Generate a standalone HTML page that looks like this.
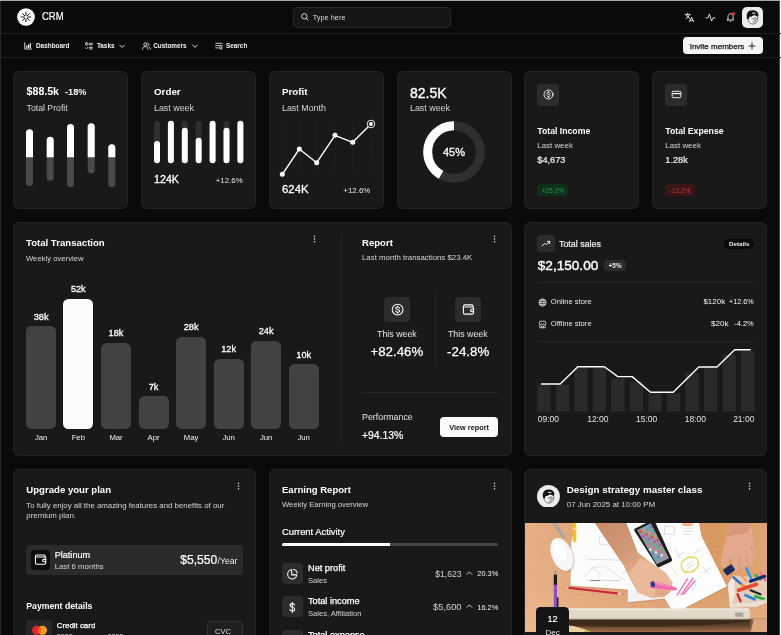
<!DOCTYPE html>
<html lang="en"><head><meta charset="utf-8"><title>CRM Dashboard</title>
<style>
html,body{margin:0;padding:0;}
body{width:781px;height:635px;overflow:hidden;position:relative;background:#0a0a0a;font-family:"Liberation Sans",sans-serif;color:#fff;}
.b{position:absolute;box-sizing:border-box;display:block;}
.t{position:absolute;line-height:12px;white-space:nowrap;}
#app{position:absolute;left:0;top:0;width:781px;height:635px;overflow:hidden;will-change:transform;}
.card{position:absolute;box-sizing:border-box;background:#191919;border:1px solid #232323;border-radius:6px;}
</style></head><body><div id="app">
<div class="b" style="left:0.00px;top:0.00px;width:781.00px;height:1.00px;background:#a9a9a9;"></div>
<div class="b" style="left:0.00px;top:1.00px;width:1.00px;height:634.00px;background:#262626;"></div>
<div class="b" style="left:779.00px;top:1.00px;width:1.00px;height:634.00px;background:#444;"></div>
<div class="b" style="left:780.00px;top:0.00px;width:1.00px;height:635.00px;background:#fbfbfb;"></div>
<header>
<div class="b" style="left:0.00px;top:32.60px;width:781.00px;height:1.00px;background:#1f1f1f;"></div>
<svg class="b" style="left:17.00px;top:7.70px;" width="18" height="18" viewBox="0 0 18 18"><circle cx="9" cy="9" r="8.8" fill="#fff"/><g stroke="#111" stroke-width="1" stroke-linecap="round"><path d="M9 4.2V7.4M9 10.6V13.8M4.2 9H7.4M10.6 9H13.8M5.6 5.6L7.7 7.7M10.3 10.3L12.4 12.4M12.4 5.6L10.3 7.7M7.7 10.3L5.6 12.4"/></g></svg>
<div class="t" style="top:11px;font-size:10.3px;color:#fff;left:41.50px;-webkit-text-stroke:0.2px #fff;transform:scaleX(0.92);transform-origin:0 0;">CRM</div>
<div class="b" style="left:293.30px;top:7.30px;width:157.70px;height:20.60px;background:#151515;border-radius:4px;border:1px solid #272727;"></div>
<svg class="b" style="left:300.00px;top:12.00px;" width="10" height="10" viewBox="0 0 10 10"><circle cx="4.3" cy="4.3" r="2.7" fill="none" stroke="#e6e6e6" stroke-width="0.9"/><path d="M6.3 6.3L8.2 8.2" stroke="#e6e6e6" stroke-width="0.9" stroke-linecap="round"/></svg>
<div class="t" style="top:12px;font-size:7.4px;color:#dcdcdc;left:312.70px;">Type here</div>
<svg class="b" style="left:684.00px;top:11.50px;" width="11" height="11" viewBox="0 0 11 11"><g fill="none" stroke="#f0f0f0" stroke-width="0.9" stroke-linecap="round" stroke-linejoin="round"><path d="M1.2 2.6H6.2M3.7 1.2V2.6M2 6.6C4 5.6 5.2 4.4 5.4 2.6M2.4 3.2C2.9 4.6 4.2 5.8 5.8 6.4M5.6 9.8L7.6 5.2L9.6 9.8M6.3 8.4H8.9"/></g></svg>
<svg class="b" style="left:704.50px;top:11.50px;" width="11" height="11" viewBox="0 0 11 11"><path d="M1 5.8H3L4.4 2L6.6 9L8 5.8H10" fill="none" stroke="#f0f0f0" stroke-width="0.9" stroke-linecap="round" stroke-linejoin="round"/></svg>
<svg class="b" style="left:724.50px;top:10.50px;" width="12" height="12" viewBox="0 0 12 12"><g fill="none" stroke="#f0f0f0" stroke-width="0.9" stroke-linecap="round" stroke-linejoin="round"><path d="M3 8.2V5.6C3 3.9 4.1 2.8 5.5 2.8S8 3.9 8 5.6V8.2L8.7 9H2.3Z"/><path d="M4.7 10.2C5 10.7 6 10.7 6.3 10.2"/></g><circle cx="8.4" cy="2.7" r="1.7" fill="#e0322d"/></svg>
<div class="b" style="left:742.00px;top:7.00px;width:20.80px;height:20.80px;background:#ebebeb;border-radius:5px;"></div>
<svg class="b" style="left:743.20px;top:8.40px;" width="18" height="18" viewBox="0 0 16 16"><path d="M4.1 7.6C3.9 11.4 6 14.2 8.8 14.2C11.6 14.2 13.3 11.8 13.1 8.2C13 6 11 4.6 8.6 4.6C6.2 4.6 4.2 5.8 4.1 7.6Z" fill="#f7f7f7" stroke="#222" stroke-width="0.55"/><path d="M3.5 9C2.5 5 4.6 1.9 8.4 1.9C11.8 1.9 14.1 3.8 13.7 6.6C13.5 7.7 12.7 7.9 12.1 7.3C10.9 6.1 9.3 6.3 8.3 7.1C7.5 7.8 6.7 8 5.9 7.8C5.5 8.6 5.3 9.4 5.1 10.1C4.4 10.1 3.8 9.7 3.5 9Z" fill="#131313"/><ellipse cx="9.6" cy="4.6" rx="1.7" ry="0.55" fill="#dcdcdc"/><circle cx="10.7" cy="9.7" r="1.2" fill="none" stroke="#222" stroke-width="0.5"/><path d="M7.3 9.5H9.5" stroke="#222" stroke-width="0.45"/><path d="M8.4 12.1C9.3 12.7 10.6 12.6 11.4 11.9" fill="none" stroke="#222" stroke-width="0.5"/></svg>
</header>
<nav>
<div class="b" style="left:0.00px;top:57.00px;width:781.00px;height:1.00px;background:#1f1f1f;"></div>
<svg class="b" style="left:24.00px;top:42.30px;" width="8" height="8" viewBox="0 0 8 8"><g fill="none" stroke="#f4f4f4" stroke-width="0.9" stroke-linecap="round"><path d="M0.8 0.8V7H7.4"/><path d="M2.9 5.4V3.9M4.6 5.4V2.9M6.3 5.4V1.6" stroke-width="1.2"/></g></svg>
<div class="t" style="top:40px;font-size:6.4px;color:#f4f4f4;font-weight:700;left:36.00px;">Dashboard</div>
<svg class="b" style="left:84.80px;top:42.20px;" width="8" height="8" viewBox="0 0 8 8"><g fill="none" stroke="#f4f4f4" stroke-width="0.8" stroke-linecap="round" stroke-linejoin="round"><rect x="0.7" y="0.9" width="2.2" height="2.2" rx="0.4"/><path d="M0.6 5.9L1.5 6.8L3 5.2"/><path d="M4.4 1.3H7.4M4.4 2.8H7.4M4.4 5.4H7.4M4.4 6.9H7.4"/></g></svg>
<div class="t" style="top:40px;font-size:6.4px;color:#f4f4f4;font-weight:700;left:96.90px;">Tasks</div>
<svg class="b" style="left:118.80px;top:44.00px;" width="6" height="5" viewBox="0 0 6 5"><path d="M0.7 1.1L3 3.4L5.3 1.1" fill="none" stroke="#f4f4f4" stroke-width="0.9" stroke-linecap="round" stroke-linejoin="round"/></svg>
<svg class="b" style="left:141.60px;top:42.00px;" width="9" height="8" viewBox="0 0 9 8"><g fill="none" stroke="#f4f4f4" stroke-width="0.8" stroke-linecap="round" stroke-linejoin="round"><circle cx="3.2" cy="2.3" r="1.5"/><path d="M0.6 7.3V6.6C0.6 5.4 1.6 4.7 3.2 4.7S5.8 5.4 5.8 6.6V7.3"/><path d="M5.9 0.9C6.9 1.1 7.2 2 7 2.7C6.8 3.3 6.4 3.6 5.9 3.7M7 4.9C7.9 5.2 8.3 5.8 8.3 6.6V7.3"/></g></svg>
<div class="t" style="top:40px;font-size:6.4px;color:#f4f4f4;font-weight:700;left:153.20px;">Customers</div>
<svg class="b" style="left:191.80px;top:44.00px;" width="6" height="5" viewBox="0 0 6 5"><path d="M0.7 1.1L3 3.4L5.3 1.1" fill="none" stroke="#f4f4f4" stroke-width="0.9" stroke-linecap="round" stroke-linejoin="round"/></svg>
<svg class="b" style="left:214.60px;top:42.30px;" width="8" height="8" viewBox="0 0 8 8"><g fill="none" stroke="#f4f4f4" stroke-width="0.8" stroke-linecap="round"><path d="M0.7 1.3H7.2M0.7 3.6H7.2M0.7 5.9H3.6"/><circle cx="5.6" cy="5.8" r="1.2"/><path d="M6.5 6.7L7.3 7.5"/></g></svg>
<div class="t" style="top:40px;font-size:6.4px;color:#f4f4f4;font-weight:700;left:226.00px;">Search</div>
<div class="b" style="left:683.00px;top:37.20px;width:79.70px;height:17.30px;background:#f5f5f5;border-radius:4px;"></div>
<div class="t" style="top:41px;font-size:8px;color:#141414;left:689.70px;-webkit-text-stroke:0.25px #141414;">Invite members</div>
<svg class="b" style="left:748.00px;top:42.20px;" width="8" height="8" viewBox="0 0 8 8"><path d="M4 1V7M1 4H7" stroke="#222" stroke-width="1" stroke-linecap="round"/></svg>
</nav>
<main>
<section class="card" style="left:13px;top:71px;width:115px;height:138px"></section>
<section class="card" style="left:140.9px;top:71px;width:115px;height:138px"></section>
<section class="card" style="left:268.7px;top:71px;width:115px;height:138px"></section>
<section class="card" style="left:396.6px;top:71px;width:115px;height:138px"></section>
<section class="card" style="left:524.4px;top:71px;width:115px;height:138px"></section>
<section class="card" style="left:652.3px;top:71px;width:115px;height:138px"></section>
<div class="t" style="top:85px;font-size:10.6px;color:#fff;font-weight:700;left:26.60px;">$88.5k</div>
<div class="t" style="top:86px;font-size:9.2px;color:#fff;font-weight:700;left:65.00px;">-18%</div>
<div class="t" style="top:102px;font-size:8.7px;color:#d6d6d6;left:26.60px;">Total Profit</div>
<svg class="b" style="left:13.00px;top:118.00px;" width="115" height="75" viewBox="0 0 115 75"><rect x="13.0" y="11.3" width="7" height="56.7" rx="3.5" fill="#4a4a4a"/><path d="M13.0 39.3V14.8a3.5 3.5 0 0 1 7 0V39.3Z" fill="#fff"/><rect x="33.7" y="18.7" width="7" height="44.0" rx="3.5" fill="#4a4a4a"/><path d="M33.7 39.3V22.2a3.5 3.5 0 0 1 7 0V39.3Z" fill="#fff"/><rect x="54.0" y="6.0" width="7" height="63.3" rx="3.5" fill="#4a4a4a"/><path d="M54.0 39.3V9.5a3.5 3.5 0 0 1 7 0V39.3Z" fill="#fff"/><rect x="74.7" y="5.3" width="7" height="50.0" rx="3.5" fill="#4a4a4a"/><path d="M74.7 39.3V8.8a3.5 3.5 0 0 1 7 0V39.3Z" fill="#fff"/><rect x="95.3" y="26.3" width="7" height="43.0" rx="3.5" fill="#4a4a4a"/><path d="M95.3 39.3V29.8a3.5 3.5 0 0 1 7 0V39.3Z" fill="#fff"/></svg>
<div class="t" style="top:86px;font-size:9.8px;color:#fff;font-weight:700;left:154.00px;">Order</div>
<div class="t" style="top:102px;font-size:8.9px;color:#d6d6d6;left:154.00px;">Last week</div>
<svg class="b" style="left:141.00px;top:115.00px;" width="115" height="55" viewBox="0 0 115 55"><rect x="13.0" y="5.7" width="6" height="42.6" rx="3" fill="#2f2f2f"/><rect x="13.0" y="26.0" width="6" height="22.3" rx="3" fill="#fff"/><rect x="26.9" y="5.7" width="6" height="42.6" rx="3" fill="#2f2f2f"/><rect x="26.9" y="5.7" width="6" height="42.6" rx="3" fill="#fff"/><rect x="40.8" y="5.7" width="6" height="42.6" rx="3" fill="#2f2f2f"/><rect x="40.8" y="12.7" width="6" height="35.6" rx="3" fill="#fff"/><rect x="54.7" y="5.7" width="6" height="42.6" rx="3" fill="#2f2f2f"/><rect x="54.7" y="22.7" width="6" height="25.6" rx="3" fill="#fff"/><rect x="68.6" y="5.7" width="6" height="42.6" rx="3" fill="#2f2f2f"/><rect x="68.6" y="5.7" width="6" height="42.6" rx="3" fill="#fff"/><rect x="82.5" y="5.7" width="6" height="42.6" rx="3" fill="#2f2f2f"/><rect x="82.5" y="12.7" width="6" height="35.6" rx="3" fill="#fff"/><rect x="96.4" y="5.7" width="6" height="42.6" rx="3" fill="#2f2f2f"/><rect x="96.4" y="5.7" width="6" height="42.6" rx="3" fill="#fff"/></svg>
<div class="t" style="top:173px;font-size:10.7px;color:#fff;left:154.00px;-webkit-text-stroke:0.3px #fff;">124K</div>
<div class="t" style="top:175px;font-size:7.9px;color:#e8e8e8;right:538.30px;">+12.6%</div>
<div class="t" style="top:86px;font-size:9.8px;color:#fff;font-weight:700;left:282.00px;">Profit</div>
<div class="t" style="top:102px;font-size:8.9px;color:#d6d6d6;left:282.00px;">Last Month</div>
<svg class="b" style="left:269.00px;top:115.00px;" width="115" height="65" viewBox="0 0 115 65"><path d="M13.3 7.5V58.5" stroke="#333" stroke-width="0.6" stroke-dasharray="2.2 2.2"/><path d="M30.3 7.5V58.5" stroke="#333" stroke-width="0.6" stroke-dasharray="2.2 2.2"/><path d="M47.7 7.5V58.5" stroke="#333" stroke-width="0.6" stroke-dasharray="2.2 2.2"/><path d="M66.0 7.5V58.5" stroke="#333" stroke-width="0.6" stroke-dasharray="2.2 2.2"/><path d="M83.7 7.5V58.5" stroke="#333" stroke-width="0.6" stroke-dasharray="2.2 2.2"/><path d="M102.0 7.5V58.5" stroke="#333" stroke-width="0.6" stroke-dasharray="2.2 2.2"/><polyline fill="none" stroke="#fff" stroke-width="1.4" stroke-linejoin="round" points="13.3,59.3 30.3,34.0 47.7,47.7 66.0,20.3 83.7,27.3 102.0,9.0"/><circle cx="13.3" cy="59.3" r="2.5" fill="#fff"/><circle cx="30.3" cy="34.0" r="2.5" fill="#fff"/><circle cx="47.7" cy="47.7" r="2.5" fill="#fff"/><circle cx="66.0" cy="20.3" r="2.5" fill="#fff"/><circle cx="83.7" cy="27.3" r="2.5" fill="#fff"/><circle cx="102.0" cy="9.0" r="3.8" fill="#191919" stroke="#fff" stroke-width="0.9"/><circle cx="102.0" cy="9.0" r="1.9" fill="#fff"/></svg>
<div class="t" style="top:183px;font-size:11.4px;color:#fff;left:282.00px;-webkit-text-stroke:0.3px #fff;">624K</div>
<div class="t" style="top:185px;font-size:7.9px;color:#e8e8e8;right:410.70px;">+12.6%</div>
<div class="t" style="top:87px;font-size:14px;color:#fff;left:410.00px;-webkit-text-stroke:0.35px #fff;">82.5K</div>
<div class="t" style="top:102px;font-size:8.9px;color:#d6d6d6;left:410.00px;">Last week</div>
<svg class="b" style="left:419.00px;top:116.70px;" width="70" height="70" viewBox="0 0 70 70"><circle cx="35" cy="35" r="26.3" fill="none" stroke="#2f2f2f" stroke-width="9"/><circle cx="35" cy="35" r="26.3" fill="none" stroke="#fff" stroke-width="9" stroke-dasharray="68.58 165.25" transform="rotate(-90 35 35) scale(1 -1) translate(0 -70)"/></svg>
<div class="t" style="top:146px;font-size:11px;color:#fff;left:454.00px;transform:translateX(-50%);-webkit-text-stroke:0.3px #fff;">45%</div>
<div class="b" style="left:537.30px;top:84.00px;width:21.70px;height:21.70px;background:#2c2c2c;border-radius:3.5px;"></div>
<svg class="b" style="left:542.65px;top:89.35px;" width="11" height="11" viewBox="0 0 11 11"><g fill="none" stroke="#fff" stroke-width="0.9" stroke-linecap="round"><circle cx="5.5" cy="5.5" r="4.5"/><path d="M7.2 4.4C7.1 3.7 6.4 3.3 5.5 3.3C4.5 3.3 3.8 3.8 3.8 4.4C3.8 5.1 4.6 5.3 5.5 5.5C6.4 5.7 7.2 5.9 7.2 6.6C7.2 7.2 6.5 7.7 5.5 7.7C4.6 7.7 3.9 7.3 3.8 6.6" stroke-width="0.85"/><path d="M5.5 2.5V3.3M5.5 7.7V8.5" stroke-width="0.8"/></g></svg>
<div class="t" style="top:125px;font-size:8.7px;color:#fff;font-weight:700;left:537.30px;">Total Income</div>
<div class="t" style="top:140px;font-size:7.9px;color:#d6d6d6;left:537.30px;">Last week</div>
<div class="t" style="top:154px;font-size:9.2px;color:#f2f2f2;left:537.30px;-webkit-text-stroke:0.2px #f2f2f2;">$4,673</div>
<div class="b" style="left:537.30px;top:184.30px;width:31.00px;height:11.70px;background:#11301b;border-radius:3.5px;"></div>
<div class="t" style="top:185px;font-size:6.6px;color:#1f9a45;left:552.80px;transform:translateX(-50%);">+25.2%</div>
<div class="b" style="left:665.30px;top:84.00px;width:21.70px;height:21.70px;background:#2c2c2c;border-radius:3.5px;"></div>
<svg class="b" style="left:670.65px;top:89.35px;" width="11" height="11" viewBox="0 0 11 11"><g fill="none" stroke="#fff" stroke-width="0.9" stroke-linejoin="round"><rect x="1.2" y="2.3" width="8.6" height="6.4" rx="1"/><path d="M1.2 4.6H9.8" stroke-width="1.2"/></g></svg>
<div class="t" style="top:125px;font-size:8.7px;color:#fff;font-weight:700;left:665.30px;">Total Expense</div>
<div class="t" style="top:140px;font-size:7.9px;color:#d6d6d6;left:665.30px;">Last week</div>
<div class="t" style="top:154px;font-size:9.2px;color:#f2f2f2;left:665.30px;-webkit-text-stroke:0.2px #f2f2f2;">1.28k</div>
<div class="b" style="left:665.30px;top:184.30px;width:29.50px;height:11.70px;background:#3a1618;border-radius:3.5px;"></div>
<div class="t" style="top:185px;font-size:6.6px;color:#c93636;left:680.05px;transform:translateX(-50%);">-12.2%</div>
<section class="card" style="left:13px;top:222px;width:499px;height:234px"></section>
<div class="t" style="top:237px;font-size:9.6px;color:#fff;font-weight:700;left:26.00px;">Total Transaction</div>
<div class="t" style="top:253px;font-size:7.7px;color:#d6d6d6;left:26.00px;">Weekly overview</div>
<svg class="b" style="left:312.50px;top:235.20px;" width="3" height="8" viewBox="0 0 3 8"><circle cx="1.5" cy="1.2" r="0.75" fill="#f0f0f0"/><circle cx="1.5" cy="4" r="0.75" fill="#f0f0f0"/><circle cx="1.5" cy="6.8" r="0.75" fill="#f0f0f0"/></svg>
<div class="b" style="left:26.10px;top:326.30px;width:30.00px;height:102.40px;background:#424242;border-radius:5.5px;"></div>
<div class="t" style="top:311px;font-size:9.2px;color:#fff;left:41.10px;transform:translateX(-50%);-webkit-text-stroke:0.3px #fff;">38k</div>
<div class="t" style="top:432px;font-size:7.7px;color:#f0f0f0;left:41.10px;transform:translateX(-50%);">Jan</div>
<div class="b" style="left:63.30px;top:299.10px;width:30.00px;height:129.60px;background:#fcfcfc;border-radius:5.5px;"></div>
<div class="t" style="top:283px;font-size:9.2px;color:#fff;left:78.30px;transform:translateX(-50%);-webkit-text-stroke:0.3px #fff;">52k</div>
<div class="t" style="top:432px;font-size:7.7px;color:#f0f0f0;left:78.30px;transform:translateX(-50%);">Feb</div>
<div class="b" style="left:101.00px;top:342.60px;width:30.00px;height:86.10px;background:#424242;border-radius:5.5px;"></div>
<div class="t" style="top:327px;font-size:9.2px;color:#fff;left:116.00px;transform:translateX(-50%);-webkit-text-stroke:0.3px #fff;">18k</div>
<div class="t" style="top:432px;font-size:7.7px;color:#f0f0f0;left:116.00px;transform:translateX(-50%);">Mar</div>
<div class="b" style="left:138.60px;top:396.40px;width:30.00px;height:32.30px;background:#424242;border-radius:5.5px;"></div>
<div class="t" style="top:381px;font-size:9.2px;color:#fff;left:153.60px;transform:translateX(-50%);-webkit-text-stroke:0.3px #fff;">7k</div>
<div class="t" style="top:432px;font-size:7.7px;color:#f0f0f0;left:153.60px;transform:translateX(-50%);">Apr</div>
<div class="b" style="left:176.10px;top:337.00px;width:30.00px;height:91.70px;background:#424242;border-radius:5.5px;"></div>
<div class="t" style="top:321px;font-size:9.2px;color:#fff;left:191.10px;transform:translateX(-50%);-webkit-text-stroke:0.3px #fff;">28k</div>
<div class="t" style="top:432px;font-size:7.7px;color:#f0f0f0;left:191.10px;transform:translateX(-50%);">May</div>
<div class="b" style="left:213.60px;top:358.50px;width:30.00px;height:70.20px;background:#424242;border-radius:5.5px;"></div>
<div class="t" style="top:343px;font-size:9.2px;color:#fff;left:228.60px;transform:translateX(-50%);-webkit-text-stroke:0.3px #fff;">12k</div>
<div class="t" style="top:432px;font-size:7.7px;color:#f0f0f0;left:228.60px;transform:translateX(-50%);">Jun</div>
<div class="b" style="left:251.10px;top:341.10px;width:30.00px;height:87.60px;background:#424242;border-radius:5.5px;"></div>
<div class="t" style="top:325px;font-size:9.2px;color:#fff;left:266.10px;transform:translateX(-50%);-webkit-text-stroke:0.3px #fff;">24k</div>
<div class="t" style="top:432px;font-size:7.7px;color:#f0f0f0;left:266.10px;transform:translateX(-50%);">Jun</div>
<div class="b" style="left:288.70px;top:364.20px;width:30.00px;height:64.50px;background:#424242;border-radius:5.5px;"></div>
<div class="t" style="top:349px;font-size:9.2px;color:#fff;left:303.70px;transform:translateX(-50%);-webkit-text-stroke:0.3px #fff;">10k</div>
<div class="t" style="top:432px;font-size:7.7px;color:#f0f0f0;left:303.70px;transform:translateX(-50%);">Jun</div>
<div class="b" style="left:341.00px;top:235.00px;width:1.00px;height:207.00px;background:#262626;"></div>
<div class="t" style="top:237px;font-size:9.6px;color:#fff;font-weight:700;left:362.00px;">Report</div>
<div class="t" style="top:252px;font-size:7.85px;color:#d6d6d6;left:362.00px;">Last month transactions $23.4K</div>
<svg class="b" style="left:492.50px;top:235.20px;" width="3" height="8" viewBox="0 0 3 8"><circle cx="1.5" cy="1.2" r="0.75" fill="#f0f0f0"/><circle cx="1.5" cy="4" r="0.75" fill="#f0f0f0"/><circle cx="1.5" cy="6.8" r="0.75" fill="#f0f0f0"/></svg>
<div class="b" style="left:384.30px;top:296.80px;width:26.00px;height:25.50px;background:#2c2c2c;border-radius:3.5px;"></div>
<svg class="b" style="left:390.70px;top:302.95px;" width="13.2" height="13.2" viewBox="0 0 11 11"><g fill="none" stroke="#fff" stroke-width="0.9" stroke-linecap="round"><circle cx="5.5" cy="5.5" r="4.5"/><path d="M7.2 4.4C7.1 3.7 6.4 3.3 5.5 3.3C4.5 3.3 3.8 3.8 3.8 4.4C3.8 5.1 4.6 5.3 5.5 5.5C6.4 5.7 7.2 5.9 7.2 6.6C7.2 7.2 6.5 7.7 5.5 7.7C4.6 7.7 3.9 7.3 3.8 6.6" stroke-width="0.85"/><path d="M5.5 2.5V3.3M5.5 7.7V8.5" stroke-width="0.8"/></g></svg>
<div class="b" style="left:455.20px;top:296.80px;width:25.60px;height:25.50px;background:#2c2c2c;border-radius:3.5px;"></div>
<svg class="b" style="left:461.50px;top:303.10px;" width="13" height="13" viewBox="0 0 11 11"><g fill="none" stroke="#fff" stroke-width="0.9" stroke-linejoin="round" stroke-linecap="round"><path d="M9.3 3.4V2.6C9.3 2 8.9 1.6 8.3 1.6H2.4C1.7 1.6 1.2 2.1 1.2 2.8V8.2C1.2 8.9 1.7 9.4 2.4 9.4H8.6C9.3 9.4 9.8 8.9 9.8 8.2V4.4C9.8 3.8 9.4 3.4 8.8 3.4H2.2"/><path d="M9.8 5.3H8.2C7.6 5.3 7.2 5.7 7.2 6.3S7.6 7.3 8.2 7.3H9.8"/></g></svg>
<div class="b" style="left:435.00px;top:290.00px;width:1.00px;height:76.50px;background:#262626;"></div>
<div class="t" style="top:328px;font-size:8.8px;color:#e6e6e6;left:396.90px;transform:translateX(-50%);">This week</div>
<div class="t" style="top:328px;font-size:8.8px;color:#e6e6e6;left:467.80px;transform:translateX(-50%);">This week</div>
<div class="t" style="top:346px;font-size:13.3px;color:#fff;left:396.90px;transform:translateX(-50%);-webkit-text-stroke:0.25px #fff;">+82.46%</div>
<div class="t" style="top:346px;font-size:13.3px;color:#fff;left:468.20px;transform:translateX(-50%);-webkit-text-stroke:0.25px #fff;">-24.8%</div>
<div class="b" style="left:362.00px;top:392.00px;width:136.50px;height:1.00px;background:#262626;"></div>
<div class="t" style="top:411px;font-size:8.9px;color:#e6e6e6;left:362.00px;">Performance</div>
<div class="t" style="top:430px;font-size:10.4px;color:#fff;left:362.00px;-webkit-text-stroke:0.2px #fff;">+94.13%</div>
<div class="b" style="left:439.80px;top:417.00px;width:58.60px;height:20.00px;background:#fafafa;border-radius:4px;"></div>
<div class="t" style="top:422px;font-size:7.3px;color:#141414;font-weight:700;left:469.10px;transform:translateX(-50%);">View report</div>
<section class="card" style="left:524px;top:222px;width:243px;height:234px"></section>
<div class="b" style="left:537.30px;top:235.00px;width:17.60px;height:17.30px;background:#2c2c2c;border-radius:3.5px;"></div>
<svg class="b" style="left:541.40px;top:238.90px;" width="9.6" height="9.6" viewBox="0 0 9 9"><path d="M1 6.6L3.6 4L5.1 5.5L8 2.4M5.9 2.2H8.1V4.4" fill="none" stroke="#fff" stroke-width="0.85" stroke-linecap="round" stroke-linejoin="round"/></svg>
<div class="t" style="top:238px;font-size:8.9px;color:#f0f0f0;left:559.00px;-webkit-text-stroke:0.2px #f0f0f0;">Total sales</div>
<div class="b" style="left:723.80px;top:239.30px;width:30.70px;height:9.40px;background:#0b0b0b;border-radius:4.7px;"></div>
<div class="t" style="top:238px;font-size:6.2px;color:#f0f0f0;font-weight:700;left:739.20px;transform:translateX(-50%);">Details</div>
<div class="t" style="top:260px;font-size:13.6px;color:#fff;left:537.80px;-webkit-text-stroke:0.4px #fff;">$2,150.00</div>
<div class="b" style="left:604.20px;top:259.70px;width:21.70px;height:11.30px;background:#2c2c2c;border-radius:3.5px;"></div>
<div class="t" style="top:260px;font-size:6.4px;color:#ededed;font-weight:700;left:615.10px;transform:translateX(-50%);">+5%</div>
<div class="b" style="left:537.80px;top:282.00px;width:216.70px;height:1.00px;background:#262626;"></div>
<svg class="b" style="left:537.50px;top:298.00px;" width="9" height="9" viewBox="0 0 9 9"><g fill="none" stroke="#eee" stroke-width="0.7"><circle cx="4.5" cy="4.5" r="3.6"/><ellipse cx="4.5" cy="4.5" rx="1.6" ry="3.6"/><path d="M0.9 4.5H8.1M1.5 2.6H7.5M1.5 6.4H7.5"/></g></svg>
<div class="t" style="top:296px;font-size:7.6px;color:#e6e6e6;left:550.80px;">Online store</div>
<div class="t" style="top:296px;font-size:7.2px;color:#f4f4f4;right:27.40px;">+12.6%</div>
<div class="t" style="top:296px;font-size:8px;color:#f4f4f4;right:55.80px;">$120k</div>
<svg class="b" style="left:537.50px;top:319.70px;" width="9" height="9" viewBox="0 0 9 9"><g fill="none" stroke="#eee" stroke-width="0.75" stroke-linejoin="round"><path d="M1.2 3.4L1.8 1.2H7.2L7.8 3.4C7.8 4.2 7.2 4.6 6.7 4.6S5.6 4.2 5.6 3.6C5.6 4.2 5 4.6 4.5 4.6S3.4 4.2 3.4 3.6C3.4 4.2 2.8 4.6 2.3 4.6S1.2 4.2 1.2 3.4Z"/><path d="M1.8 4.6V7.8H7.2V4.6M3.6 7.8V6H5.4V7.8"/></g></svg>
<div class="t" style="top:318px;font-size:7.6px;color:#e6e6e6;left:550.80px;">Offline store</div>
<div class="t" style="top:318px;font-size:7.4px;color:#f4f4f4;right:27.40px;">-4.2%</div>
<div class="t" style="top:318px;font-size:8px;color:#f4f4f4;right:52.60px;">$20k</div>
<div class="b" style="left:537.80px;top:340.50px;width:216.70px;height:1.00px;background:#262626;"></div>
<svg class="b" style="left:524.00px;top:345.00px;" width="243" height="70" viewBox="0 0 243 70"><rect x="13.2" y="39.6" width="13.4" height="27.2" fill="#2a2a2a"/><rect x="31.7" y="39.6" width="13.4" height="27.2" fill="#2a2a2a"/><rect x="50.3" y="23.0" width="13.4" height="43.8" fill="#2a2a2a"/><rect x="68.8" y="23.0" width="13.4" height="43.8" fill="#2a2a2a"/><rect x="87.3" y="33.2" width="13.4" height="33.6" fill="#2a2a2a"/><rect x="105.9" y="36.4" width="13.4" height="30.4" fill="#2a2a2a"/><rect x="124.4" y="48.3" width="13.4" height="18.5" fill="#2a2a2a"/><rect x="142.9" y="48.3" width="13.4" height="18.5" fill="#2a2a2a"/><rect x="161.4" y="27.8" width="13.4" height="39.0" fill="#2a2a2a"/><rect x="180.0" y="23.0" width="13.4" height="43.8" fill="#2a2a2a"/><rect x="198.5" y="9.8" width="13.4" height="57.0" fill="#2a2a2a"/><rect x="217.0" y="6.0" width="13.4" height="60.8" fill="#2a2a2a"/><polyline fill="none" stroke="#fff" stroke-width="1.4" stroke-linejoin="round" points="17.0,39.0 36.2,39.0 53.8,21.7 80.4,21.7 93.8,31.6 108.2,31.6 126.5,47.3 149.2,47.3 174.8,22.0 193.0,22.0 210.7,4.7 226.7,4.7"/></svg>
<div class="t" style="top:413px;font-size:8.5px;color:#e2e2e2;left:537.80px;">09:00</div>
<div class="t" style="top:413px;font-size:8.5px;color:#e2e2e2;left:597.80px;transform:translateX(-50%);">12:00</div>
<div class="t" style="top:413px;font-size:8.5px;color:#e2e2e2;left:646.60px;transform:translateX(-50%);">15:00</div>
<div class="t" style="top:413px;font-size:8.5px;color:#e2e2e2;left:695.30px;transform:translateX(-50%);">18:00</div>
<div class="t" style="top:413px;font-size:8.5px;color:#e2e2e2;right:26.60px;">21:00</div>
<section class="card" style="left:13px;top:469px;width:243px;height:200px"></section>
<div class="t" style="top:484px;font-size:9.6px;color:#fff;font-weight:700;left:26.30px;">Upgrade your plan</div>
<svg class="b" style="left:237.20px;top:482.30px;" width="3" height="8" viewBox="0 0 3 8"><circle cx="1.5" cy="1.2" r="0.75" fill="#f0f0f0"/><circle cx="1.5" cy="4" r="0.75" fill="#f0f0f0"/><circle cx="1.5" cy="6.8" r="0.75" fill="#f0f0f0"/></svg>
<div class="t" style="top:500px;font-size:7.85px;color:#d4d4d4;left:26.30px;">To fully enjoy all the amazing features and benefits of our</div>
<div class="t" style="top:510px;font-size:7.85px;color:#d4d4d4;left:26.30px;">premium plan.</div>
<div class="b" style="left:26.30px;top:545.00px;width:217.00px;height:30.00px;background:#2b2b2b;border-radius:4px;"></div>
<div class="b" style="left:30.70px;top:550.00px;width:19.00px;height:20.00px;background:#0c0c0c;border-radius:3.5px;"></div>
<svg class="b" style="left:33.70px;top:553.40px;" width="13.2" height="13.2" viewBox="0 0 11 11"><g fill="none" stroke="#fff" stroke-width="0.9" stroke-linejoin="round" stroke-linecap="round"><path d="M9.3 3.4V2.6C9.3 2 8.9 1.6 8.3 1.6H2.4C1.7 1.6 1.2 2.1 1.2 2.8V8.2C1.2 8.9 1.7 9.4 2.4 9.4H8.6C9.3 9.4 9.8 8.9 9.8 8.2V4.4C9.8 3.8 9.4 3.4 8.8 3.4H2.2"/><path d="M9.8 5.3H8.2C7.6 5.3 7.2 5.7 7.2 6.3S7.6 7.3 8.2 7.3H9.8"/></g></svg>
<div class="t" style="top:549px;font-size:9.1px;color:#fff;left:54.70px;-webkit-text-stroke:0.2px #fff;">Platinum</div>
<div class="t" style="top:561px;font-size:7.8px;color:#d6d6d6;left:54.70px;">Last 6 months</div>
<div class="t" style="top:554px;font-size:12.1px;color:#fff;right:563.80px;-webkit-text-stroke:0.2px #fff;">$5,550</div>
<div class="t" style="top:555px;font-size:8.6px;color:#f0f0f0;left:217.60px;">/Year</div>
<div class="t" style="top:600px;font-size:8.7px;color:#fff;font-weight:700;left:26.30px;">Payment details</div>
<div class="b" style="left:26.00px;top:620.20px;width:25.60px;height:22.00px;background:#272727;border-radius:3.5px;"></div>
<svg class="b" style="left:30.00px;top:624.00px;" width="20" height="13" viewBox="0 0 20 13"><circle cx="6.7" cy="6.3" r="4.6" fill="#e3262d"/><circle cx="12.4" cy="6.3" r="4.6" fill="#f59a23"/><path d="M9.55 2.7A4.6 4.6 0 0 1 9.55 9.9A4.6 4.6 0 0 1 9.55 2.7Z" fill="#f0601f"/></svg>
<div class="t" style="top:620px;font-size:7.9px;color:#fff;left:56.70px;-webkit-text-stroke:0.25px #fff;">Credit card</div>
<div class="t" style="top:631px;font-size:7.2px;color:#cfcfcf;left:56.70px;">2532 xxxx xxxx 2255</div>
<div class="b" style="left:207.20px;top:621.20px;width:36.30px;height:22.00px;background:#1f1f1f;border-radius:4px;border:1px solid #343434;"></div>
<div class="t" style="top:626px;font-size:7.5px;color:#dedede;left:215.00px;">CVC</div>
<section class="card" style="left:269px;top:469px;width:243px;height:200px"></section>
<div class="t" style="top:484px;font-size:9.55px;color:#fff;font-weight:700;left:282.00px;">Earning Report</div>
<svg class="b" style="left:492.80px;top:482.30px;" width="3" height="8" viewBox="0 0 3 8"><circle cx="1.5" cy="1.2" r="0.75" fill="#f0f0f0"/><circle cx="1.5" cy="4" r="0.75" fill="#f0f0f0"/><circle cx="1.5" cy="6.8" r="0.75" fill="#f0f0f0"/></svg>
<div class="t" style="top:499px;font-size:7.7px;color:#d6d6d6;left:282.00px;">Weekly Earning overview</div>
<div class="t" style="top:526px;font-size:9.35px;color:#fff;left:282.00px;-webkit-text-stroke:0.2px #fff;">Current Activity</div>
<div class="b" style="left:282.00px;top:543.00px;width:216.30px;height:3.40px;background:#454545;border-radius:1.7px;"></div>
<div class="b" style="left:282.00px;top:543.00px;width:108.00px;height:3.40px;background:#fff;border-radius:1.7px;border-top-right-radius:0;border-bottom-right-radius:0;"></div>
<div class="b" style="left:282.00px;top:563.30px;width:21.30px;height:21.00px;background:#2c2c2c;border-radius:3.5px;"></div>
<svg class="b" style="left:286.35px;top:567.50px;" width="12.6" height="12.6" viewBox="0 0 11 11"><g fill="none" stroke="#fff" stroke-width="0.9" stroke-linejoin="round" stroke-linecap="round"><path d="M5 1.6A4 4 0 1 0 9.4 6H5Z"/><path d="M6.4 1.3A3.6 3.6 0 0 1 9.7 4.6"/></g></svg>
<div class="t" style="top:562px;font-size:9.2px;color:#fff;left:308.00px;-webkit-text-stroke:0.25px #fff;">Net profit</div>
<div class="t" style="top:575px;font-size:7.6px;color:#d6d6d6;left:308.00px;">Sales</div>
<div class="t" style="top:568px;font-size:8.6px;color:#d4d4d4;right:319.50px;">$1,623</div>
<svg class="b" style="left:466.30px;top:570.30px;" width="7" height="6" viewBox="0 0 7 6"><path d="M1 4.3L3.4 1.9L5.8 4.3" fill="none" stroke="#f0f0f0" stroke-width="0.85" stroke-linecap="round" stroke-linejoin="round"/></svg>
<div class="t" style="top:568px;font-size:7.4px;color:#f4f4f4;right:282.70px;">20.3%</div>
<div class="b" style="left:282.00px;top:596.40px;width:21.30px;height:21.00px;background:#2c2c2c;border-radius:3.5px;"></div>
<svg class="b" style="left:286.35px;top:600.60px;" width="12.6" height="12.6" viewBox="0 0 11 11"><path d="M7.6 3.5C7.4 2.7 6.6 2.3 5.5 2.3C4.3 2.3 3.5 2.9 3.5 3.8C3.5 4.8 4.4 5.1 5.5 5.4C6.7 5.7 7.6 6 7.6 7.1C7.6 8 6.7 8.7 5.5 8.7C4.4 8.7 3.5 8.2 3.3 7.4M5.5 1V10" fill="none" stroke="#fff" stroke-width="0.9" stroke-linecap="round"/></svg>
<div class="t" style="top:595px;font-size:9.2px;color:#fff;left:308.00px;-webkit-text-stroke:0.25px #fff;">Total income</div>
<div class="t" style="top:608px;font-size:7.6px;color:#d6d6d6;left:308.00px;">Sales, Affiliation</div>
<div class="t" style="top:601px;font-size:9.3px;color:#d4d4d4;right:319.50px;">$5,600</div>
<svg class="b" style="left:466.30px;top:603.40px;" width="7" height="6" viewBox="0 0 7 6"><path d="M1 4.3L3.4 1.9L5.8 4.3" fill="none" stroke="#f0f0f0" stroke-width="0.85" stroke-linecap="round" stroke-linejoin="round"/></svg>
<div class="t" style="top:602px;font-size:7.4px;color:#f4f4f4;right:282.70px;">16.2%</div>
<div class="b" style="left:282.00px;top:630.20px;width:21.30px;height:21.00px;background:#2c2c2c;border-radius:3.5px;"></div>
<svg class="b" style="left:286.35px;top:634.40px;" width="12.6" height="12.6" viewBox="0 0 11 11"><g fill="none" stroke="#fff" stroke-width="0.9" stroke-linejoin="round"><rect x="1.2" y="2.3" width="8.6" height="6.4" rx="1"/><path d="M1.2 4.6H9.8" stroke-width="1.2"/></g></svg>
<div class="t" style="top:629px;font-size:9.2px;color:#fff;left:308.00px;-webkit-text-stroke:0.25px #fff;">Total expense</div>
<div class="t" style="top:642px;font-size:7.6px;color:#d6d6d6;left:308.00px;">Adsense</div>
<div class="t" style="top:635px;font-size:8.6px;color:#d4d4d4;right:319.50px;">$3,600</div>
<svg class="b" style="left:466.30px;top:637.20px;" width="7" height="6" viewBox="0 0 7 6"><path d="M1 4.3L3.4 1.9L5.8 4.3" fill="none" stroke="#f0f0f0" stroke-width="0.85" stroke-linecap="round" stroke-linejoin="round"/></svg>
<div class="t" style="top:635px;font-size:7.4px;color:#f4f4f4;right:282.70px;">8.4%</div>
<section class="card" style="left:524px;top:469px;width:243px;height:200px"></section>
<svg class="b" style="left:537.40px;top:484.50px;" width="22.9" height="22.9" viewBox="0 0 22.9 22.9"><circle cx="11.45" cy="11.45" r="11.45" fill="#ececec"/><g transform="translate(2.2 2.4) scale(1.1)"><path d="M4.1 7.6C3.9 11.4 6 14.2 8.8 14.2C11.6 14.2 13.3 11.8 13.1 8.2C13 6 11 4.6 8.6 4.6C6.2 4.6 4.2 5.8 4.1 7.6Z" fill="#f7f7f7" stroke="#222" stroke-width="0.55"/><path d="M3.5 9C2.5 5 4.6 1.9 8.4 1.9C11.8 1.9 14.1 3.8 13.7 6.6C13.5 7.7 12.7 7.9 12.1 7.3C10.9 6.1 9.3 6.3 8.3 7.1C7.5 7.8 6.7 8 5.9 7.8C5.5 8.6 5.3 9.4 5.1 10.1C4.4 10.1 3.8 9.7 3.5 9Z" fill="#131313"/><ellipse cx="9.6" cy="4.6" rx="1.7" ry="0.55" fill="#dcdcdc"/><circle cx="10.7" cy="9.7" r="1.2" fill="none" stroke="#222" stroke-width="0.5"/><path d="M7.3 9.5H9.5" stroke="#222" stroke-width="0.45"/><path d="M8.4 12.1C9.3 12.7 10.6 12.6 11.4 11.9" fill="none" stroke="#222" stroke-width="0.5"/></g></svg>
<div class="t" style="top:484px;font-size:9.8px;color:#fff;font-weight:700;left:566.80px;">Design strategy master class</div>
<div class="t" style="top:499px;font-size:7.9px;color:#d6d6d6;left:566.80px;">07 Jun 2025 at 10:00 PM</div>
<svg class="b" style="left:748.20px;top:482.20px;" width="3" height="8" viewBox="0 0 3 8"><circle cx="1.5" cy="1.2" r="0.75" fill="#f0f0f0"/><circle cx="1.5" cy="4" r="0.75" fill="#f0f0f0"/><circle cx="1.5" cy="6.8" r="0.75" fill="#f0f0f0"/></svg>
<svg class="b" style="left:525.00px;top:523.00px;overflow:hidden;" width="242" height="109" viewBox="0 0 242 109"><g transform="translate(-0.5 -0.7)"><defs><linearGradient id="wd" x1="0" y1="0" x2="1" y2="0"><stop offset="0" stop-color="#e6ae86"/><stop offset="0.35" stop-color="#dfa275"/><stop offset="0.62" stop-color="#d9996a"/><stop offset="0.8" stop-color="#d8975f"/><stop offset="1" stop-color="#dfa474"/></linearGradient><linearGradient id="wl" x1="0" y1="0" x2="0" y2="1"><stop offset="0" stop-color="#f2c8a4" stop-opacity="0"/><stop offset="0.55" stop-color="#f2c8a4" stop-opacity="0.08"/><stop offset="1" stop-color="#f2c8a4" stop-opacity="0.42"/></linearGradient><linearGradient id="sh" x1="0" y1="0" x2="0" y2="1"><stop offset="0" stop-color="#4a3223"/><stop offset="0.45" stop-color="#5a3d2a"/><stop offset="1" stop-color="#a8734e"/></linearGradient></defs><rect width="242.5" height="112.7" fill="url(#wd)"/><rect x="0" width="242.5" height="112.7" fill="url(#wl)"/><rect x="0" y="8" width="242.5" height="1.6" fill="#f3c79c" opacity="0.1"/><rect x="0" y="19" width="242.5" height="1.6" fill="#f3c79c" opacity="0.08"/><rect x="0" y="27" width="242.5" height="1.6" fill="#f3c79c" opacity="0.12"/><rect x="0" y="41" width="242.5" height="1.6" fill="#f3c79c" opacity="0.08"/><rect x="0" y="52" width="242.5" height="1.6" fill="#f3c79c" opacity="0.1"/><rect x="0" y="63" width="242.5" height="1.6" fill="#f3c79c" opacity="0.07"/><rect x="0" y="74" width="242.5" height="1.6" fill="#f3c79c" opacity="0.1"/><rect x="0" y="81" width="242.5" height="1.6" fill="#f3c79c" opacity="0.08"/><path d="M29.5 0.5L38.8 14.2" stroke="#a7a7a7" stroke-width="3.2" stroke-linecap="round"/><path d="M51.8 0L46.7 20.3L46 64.2L104.3 68.4L104.3 81L139.6 77.2L146 87L159 87.5L203.4 64.8L177 14L174.3 0Z" fill="#b98259" opacity="0.5"/><path d="M103.4 66L103.4 80L140.1 76.1L127 60Z" fill="#f3f3f3"/><path d="M51.8 0L46.7 20.3L46 63.2L104.3 67.4L124 66L120 0Z" fill="#fbfbfb"/><path d="M96 0L174.3 0L177 14L202.4 64L158 87L146.8 87L140.1 76.1L112 40Z" fill="#fdfdfd"/><g fill="none" stroke="#c9c9c9" stroke-width="0.5"><path d="M60 55L68 45L76 52L74 58L62 58M66 46L78 44M80 44L100 58M98 52L104 46"/><path d="M75 14H86V22H75Z"/><path d="M62 37L100 38"/></g><path d="M66 58.3H76" stroke="#555" stroke-width="0.7"/><path d="M78 58.3H96" stroke="#aaa" stroke-width="0.5"/><g fill="none" stroke="#bdbdbd" stroke-width="0.5"><path d="M150 26L156 36M152 34L160 30M148 46L152 52M168 32L176 27M178 44L184 52M180 50L186 45M172 60L168 68"/><path d="M140 4H150V12H140ZM158 6H168M158 9H168M158 12H166"/></g><ellipse cx="163" cy="2.2" rx="6" ry="1.8" fill="#f0a070" opacity="0.8"/><rect x="48.3" y="0" width="3.5" height="19.5" rx="1.3" fill="#f4c40a"/><rect x="48.3" y="5.5" width="3.5" height="1.6" fill="#e6e0c8"/><ellipse cx="38.6" cy="33.3" rx="10.6" ry="17.4" transform="rotate(-21 38.6 33.3)" fill="#b98862" opacity="0.35"/><ellipse cx="37.3" cy="32.1" rx="10.3" ry="17.2" transform="rotate(-21 37.3 32.1)" fill="#f6f6f6"/><ellipse cx="34.6" cy="28.5" rx="6" ry="11" transform="rotate(-21 34.6 28.5)" fill="#ffffff"/><ellipse cx="165.3" cy="42.4" rx="9" ry="7.3" transform="rotate(-28 165.3 42.4)" fill="none" stroke="#efd040" stroke-width="1.3"/><path d="M161 44L168 39M163 46L169 42" stroke="#bbb" stroke-width="0.5"/><g stroke="#f277be" stroke-width="1.5" stroke-linecap="round"><path d="M152.6 72.8L162.9 56.5M156.8 72.3L168.4 56M159 72L170.7 58.4"/></g><path d="M110.6 6.2L123.8 -0.3L130.6 -0.3L147.4 36.8Q148.2 38.6 146.4 39.4L135 44.6Q133.2 45.4 132.3 43.6L110 8.6Q109.2 7 110.6 6.2Z" fill="#1d1d1f"/><path d="M112.6 7.6L126.2 1L144.6 36L132.2 42Z" fill="#9397a2"/><rect x="114.9" y="8.2" width="2.4" height="2.4" rx="0.7" fill="#e8453c" transform="rotate(-25 116.1 9.4)"/><rect x="118.2" y="6.6" width="2.4" height="2.4" rx="0.7" fill="#f0a02c" transform="rotate(-25 119.4 7.8)"/><rect x="121.5" y="5.0" width="2.4" height="2.4" rx="0.7" fill="#34b6c8" transform="rotate(-25 122.7 6.2)"/><rect x="124.8" y="3.4" width="2.4" height="2.4" rx="0.7" fill="#3c8fe8" transform="rotate(-25 126.0 4.6)"/><rect x="117.3" y="12.7" width="2.4" height="2.4" rx="0.7" fill="#c04ad0" transform="rotate(-25 118.5 13.9)"/><rect x="120.6" y="11.1" width="2.4" height="2.4" rx="0.7" fill="#e8453c" transform="rotate(-25 121.8 12.3)"/><rect x="123.9" y="9.5" width="2.4" height="2.4" rx="0.7" fill="#f0a02c" transform="rotate(-25 125.1 10.7)"/><rect x="127.2" y="7.9" width="2.4" height="2.4" rx="0.7" fill="#34b6c8" transform="rotate(-25 128.4 9.1)"/><rect x="119.7" y="17.1" width="2.4" height="2.4" rx="0.7" fill="#4cc15a" transform="rotate(-25 120.9 18.3)"/><rect x="123.0" y="15.5" width="2.4" height="2.4" rx="0.7" fill="#c04ad0" transform="rotate(-25 124.2 16.7)"/><rect x="126.3" y="13.9" width="2.4" height="2.4" rx="0.7" fill="#e8453c" transform="rotate(-25 127.5 15.1)"/><rect x="129.6" y="12.3" width="2.4" height="2.4" rx="0.7" fill="#f0a02c" transform="rotate(-25 130.8 13.5)"/><rect x="122.2" y="21.6" width="2.4" height="2.4" rx="0.7" fill="#f06a8a" transform="rotate(-25 123.4 22.8)"/><rect x="125.5" y="20.0" width="2.4" height="2.4" rx="0.7" fill="#4cc15a" transform="rotate(-25 126.7 21.2)"/><rect x="128.8" y="18.4" width="2.4" height="2.4" rx="0.7" fill="#c04ad0" transform="rotate(-25 130.0 19.6)"/><rect x="132.1" y="16.8" width="2.4" height="2.4" rx="0.7" fill="#e8453c" transform="rotate(-25 133.3 18.0)"/><rect x="124.6" y="26.1" width="2.4" height="2.4" rx="0.7" fill="#e9e9e9" transform="rotate(-25 125.8 27.3)"/><rect x="127.9" y="24.5" width="2.4" height="2.4" rx="0.7" fill="#f06a8a" transform="rotate(-25 129.1 25.7)"/><rect x="131.2" y="22.9" width="2.4" height="2.4" rx="0.7" fill="#4cc15a" transform="rotate(-25 132.4 24.1)"/><rect x="134.5" y="21.3" width="2.4" height="2.4" rx="0.7" fill="#c04ad0" transform="rotate(-25 135.7 22.5)"/><rect x="127.0" y="30.5" width="2.4" height="2.4" rx="0.7" fill="#3c8fe8" transform="rotate(-25 128.2 31.7)"/><rect x="130.3" y="28.9" width="2.4" height="2.4" rx="0.7" fill="#e9e9e9" transform="rotate(-25 131.5 30.1)"/><rect x="133.6" y="27.3" width="2.4" height="2.4" rx="0.7" fill="#f06a8a" transform="rotate(-25 134.8 28.5)"/><rect x="136.9" y="25.7" width="2.4" height="2.4" rx="0.7" fill="#4cc15a" transform="rotate(-25 138.1 26.9)"/><rect x="129.5" y="35.0" width="2.4" height="2.4" rx="0.7" fill="#34b6c8" transform="rotate(-25 130.7 36.2)"/><rect x="132.8" y="33.4" width="2.4" height="2.4" rx="0.7" fill="#3c8fe8" transform="rotate(-25 134.0 34.6)"/><rect x="136.1" y="31.8" width="2.4" height="2.4" rx="0.7" fill="#e9e9e9" transform="rotate(-25 137.3 33.0)"/><rect x="139.4" y="30.2" width="2.4" height="2.4" rx="0.7" fill="#f06a8a" transform="rotate(-25 140.6 31.4)"/><defs><linearGradient id="arm" gradientUnits="userSpaceOnUse" x1="84" y1="0" x2="118" y2="50"><stop offset="0" stop-color="#c88c69"/><stop offset="0.6" stop-color="#d39a77"/><stop offset="1" stop-color="#e2ae8d"/></linearGradient></defs><path d="M69.9 0L98.9 43L106.1 57.4L113.4 70.1L126.4 75.5L139 74.6L146.3 69.2L148 60.2L140.8 50.2L127.5 41.2L113.4 30.3L101.6 0Z" fill="url(#arm)"/><path d="M104 50L113.4 70.1L126.4 75.5L139 74.6L146.3 69.2L148 60.2L140.8 50.2L127.5 41.2L116 36Z" fill="#e9b999"/><path d="M127.6 59.6L149.6 65.4L151.8 66.5L149.4 67.3L126.4 64.8Z" fill="#f46aa8" stroke="#f46aa8" stroke-width="1.8" stroke-linejoin="round"/><path d="M130 60.6L146 64.8" stroke="#f9a3c8" stroke-width="0.9"/><ellipse cx="128.2" cy="62" rx="2.2" ry="3" transform="rotate(-15 128.2 62)" fill="#1f3f94"/><path d="M131 66.5L141 68.2L146.3 69.2L139 74.6L130 73Z" fill="#dfa987"/><path d="M206 0L200 22L196 38L197 45L201 45.5L205 36L207.5 41L209.5 50L214 50L215 42L218 48L222 47L222.5 40L226 44L229 42L228 30L231.4 37L232 35L229 20L226.3 0Z" fill="#e3a88e"/><path d="M206 0L203 14L224 10L226.3 0Z" fill="#d6977a"/><path d="M205 36L207.5 41M215 42L214.5 34M222.5 40L221.5 32M228 30L226.5 24" stroke="#c08468" stroke-width="0.6" fill="none"/><rect x="199.4" y="44" width="10.4" height="7.2" rx="1.2" transform="rotate(-35 204.6 47.6)" fill="#1b2b5e"/><path d="M203.3 62L209 53L242.5 56L242.5 80L232 84.5L206 85.5Z" fill="#e4d6c8" opacity="0.85"/><path d="M209 53L203.3 62L205.5 85.5L210.5 72Z" fill="#f2ebe4" opacity="0.9"/><path d="M212 58L222 66" stroke="#f58a2a" stroke-width="2.6" stroke-linecap="round"/><path d="M209 55L216 61" stroke="#2a6fd0" stroke-width="2.4" stroke-linecap="round"/><path d="M222 46L227 57" stroke="#2b9be6" stroke-width="2.6" stroke-linecap="round"/><path d="M213 49L222 59" stroke="#f39a6a" stroke-width="2.4" stroke-linecap="round"/><path d="M231 53L236 57" stroke="#3bb54a" stroke-width="2.8" stroke-linecap="round"/><path d="M236 51L241 58" stroke="#f06a9a" stroke-width="2.6" stroke-linecap="round"/><path d="M226 59L240 54" stroke="#1b2b6e" stroke-width="3.2" stroke-linecap="round"/><path d="M214 68L232 62" stroke="#e8492f" stroke-width="3.6" stroke-linecap="round"/><path d="M221 73L230 77" stroke="#2a7fd8" stroke-width="2.8" stroke-linecap="round"/><path d="M231 74L240 77" stroke="#2fae3f" stroke-width="2.8" stroke-linecap="round"/><path d="M213 72L216 79" stroke="#d8262c" stroke-width="2.4" stroke-linecap="round"/><path d="M236 63L241 71" stroke="#f3c0a8" stroke-width="2.6" stroke-linecap="round"/><path d="M226 68L236 72" stroke="#222" stroke-width="2.2" stroke-linecap="round"/><path d="M205.5 85.5L232 84.5L242.5 80L242.5 76L231 80.5L205 81.5Z" fill="#efe6dc" opacity="0.7"/><path d="M43.6 65.4L93.4 71.3" stroke="#c5253a" stroke-width="2"/><path d="M93.4 71.3L96.6 71.7" stroke="#e8d2c4" stroke-width="2"/><path d="M96.6 71.7L99.4 72" stroke="#ee7fa0" stroke-width="2"/><path d="M42.4 65.2L44 65.4" stroke="#ecd0a8" stroke-width="1.5"/><rect x="29.3" y="62" width="3.2" height="23" fill="#8b50c4"/><rect x="29.3" y="52" width="3.2" height="10.5" fill="#1c1c1c"/><rect x="30" y="48.2" width="1.8" height="4.5" fill="#9a9a9a"/><rect x="32.4" y="75" width="1.6" height="10" fill="#222"/><rect x="36" y="96.4" width="207" height="14" fill="url(#sh)"/><path d="M36 96.6H226L226 99Q180 104.5 120 104.5T36 103Z" fill="#3a2619" opacity="0.8"/><path d="M44 103.2Q56 104.4 67 110L44 110Z" fill="#efdcaa" opacity="0.92"/><path d="M58.5 110L62 107.6L67.5 110Z" fill="#b4c23e"/><rect x="226" y="96.4" width="17" height="14" fill="#dca77c"/><path d="M226 97H229Q228 104 226 110Z" fill="#5a3d2a" opacity="0.7"/><path d="M36 86.3H223.4Q225.6 86.3 225.6 88.5V94.7Q225.6 96.9 223.4 96.9H36Z" fill="#e3dacb"/><path d="M36 86.3H224V87.5H36Z" fill="#f3eee4"/><path d="M36 95.4H225.4V96.9H36Z" fill="#cfc5b4"/><rect x="210.6" y="90.3" width="8.2" height="4.2" fill="#aaa59b"/></g></svg>
<div class="b" style="left:536.20px;top:606.60px;width:32.80px;height:40.00px;background:#141414;border-radius:4.5px;"></div>
<div class="t" style="top:613px;font-size:9.2px;color:#fff;left:552.60px;transform:translateX(-50%);-webkit-text-stroke:0.2px #fff;">12</div>
<div class="t" style="top:627px;font-size:8px;color:#e6e6e6;left:552.60px;transform:translateX(-50%);">Dec</div>
</main>
</div></body></html>
